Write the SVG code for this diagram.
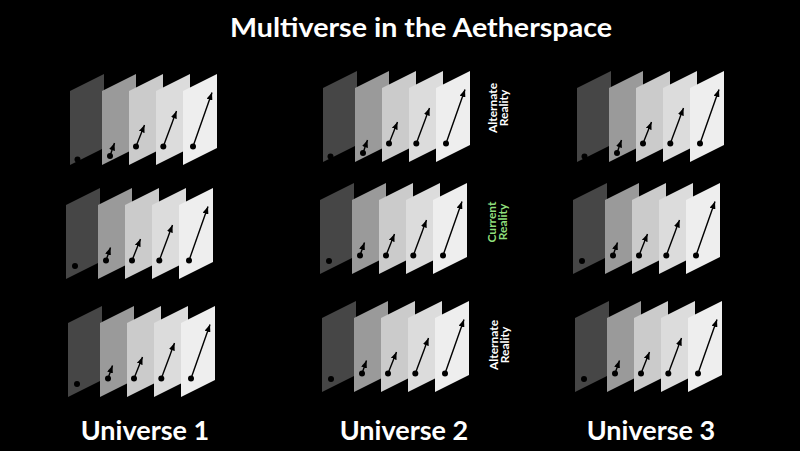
<svg xmlns="http://www.w3.org/2000/svg" xmlns:xlink="http://www.w3.org/1999/xlink" width="800" height="451" viewBox="0 0 800 451">
<style>
.p1{fill:#464646}.p2{fill:#9a9a9a}.p3{fill:#cbcbcb}.p4{fill:#dcdcdc}.p5{fill:#eeeeee}
.ar{stroke:#000;stroke-width:1.4;fill:none;marker-end:url(#ah)}
.dot{fill:#000}
.title{font-family:Lato,"Noto Sans",sans-serif;font-weight:700;font-size:26px;fill:#fff}
.uni{font-family:Lato,"Noto Sans",sans-serif;font-weight:700;font-size:27px;fill:#fff}
.side{font-family:Lato,"Noto Sans",sans-serif;font-weight:700;font-size:12px;fill:#fff}
.cur{fill:#8fdf7c}
</style>
<defs>
<marker id="ah" viewBox="0 0 10 8" refX="10" refY="4" markerWidth="7.5" markerHeight="6" markerUnits="userSpaceOnUse" orient="auto">
<path d="M0,0 L10,4 L0,8 Z" fill="#000"/>
</marker>
<path id="pl" d="M0,0 L34,-17 L34,57 L0,74 Z"/>
<g id="planes">
<use href="#pl" class="p1"/>
<use href="#pl" class="p2" x="32"/>
<use href="#pl" class="p3" x="59"/>
<use href="#pl" class="p4" x="86"/>
<use href="#pl" class="p5" x="113"/>
</g>
<g id="arrowsA">
<circle class="dot" cx="7.5" cy="68.5" r="3"/>
<circle class="dot" cx="40" cy="65" r="3"/>
<line class="ar" x1="40" y1="65" x2="44.5" y2="52"/>
<circle class="dot" cx="66" cy="55.5" r="3"/>
<line class="ar" x1="66" y1="55.5" x2="74.5" y2="34"/>
<circle class="dot" cx="93.3" cy="55.5" r="3"/>
<line class="ar" x1="93.3" y1="55.5" x2="106.5" y2="20"/>
<circle class="dot" cx="123" cy="55.5" r="3"/>
<line class="ar" x1="123" y1="55.5" x2="142" y2="1.5"/>
</g>
<g id="arrowsB">
<circle class="dot" cx="9" cy="61" r="3"/>
<circle class="dot" cx="40" cy="55.5" r="3"/>
<line class="ar" x1="40" y1="55.5" x2="44.5" y2="42.5"/>
<circle class="dot" cx="66" cy="55.5" r="3"/>
<line class="ar" x1="66" y1="55.5" x2="74.5" y2="34"/>
<circle class="dot" cx="93.3" cy="55.5" r="3"/>
<line class="ar" x1="93.3" y1="55.5" x2="106.5" y2="20"/>
<circle class="dot" cx="123" cy="55.5" r="3"/>
<line class="ar" x1="123" y1="55.5" x2="142" y2="1.5"/>
</g>
</defs>
<rect width="800" height="451" fill="#000"/>
<text class="title" x="421" y="37" text-anchor="middle" textLength="382" lengthAdjust="spacingAndGlyphs">Multiverse in the Aetherspace</text>

<g id="universe-1">
<g id="u1-r1" transform="translate(70,91)"><use href="#planes"/></g>
<g id="u1-r2" transform="translate(66,205)"><use href="#planes"/></g>
<g id="u1-r3" transform="translate(68,323)"><use href="#planes"/></g>
</g>
<g id="universe-2">
<g id="u2-r1" transform="translate(323,88)"><use href="#planes"/></g>
<g id="u2-r2" transform="translate(320,200)"><use href="#planes"/></g>
<g id="u2-r3" transform="translate(322,318)"><use href="#planes"/></g>
</g>
<g id="universe-3">
<g id="u3-r1" transform="translate(577,88)"><use href="#planes"/></g>
<g id="u3-r2" transform="translate(573,200)"><use href="#planes"/></g>
<g id="u3-r3" transform="translate(575,318)"><use href="#planes"/></g>
</g>

<g id="connectors">
<use href="#arrowsA" transform="translate(70,91)"/>
<use href="#arrowsB" transform="translate(66,205)"/>
<use href="#arrowsB" transform="translate(68,323)"/>
<use href="#arrowsA" transform="translate(323,88)"/>
<use href="#arrowsB" transform="translate(320,200)"/>
<use href="#arrowsB" transform="translate(322,318)"/>
<use href="#arrowsA" transform="translate(577,88)"/>
<use href="#arrowsB" transform="translate(573,200)"/>
<use href="#arrowsB" transform="translate(575,318)"/>
</g>

<g id="label-alt-top">
<text class="side" text-anchor="middle" transform="translate(497,108) rotate(-90)"><tspan x="0" y="0">Alternate</tspan><tspan x="0" y="11">Reality</tspan></text>
</g>
<g id="label-current">
<text class="side cur" text-anchor="middle" transform="translate(496,222) rotate(-90)"><tspan x="0" y="0">Current</tspan><tspan x="0" y="11">Reality</tspan></text>
</g>
<g id="label-alt-bottom">
<text class="side" text-anchor="middle" transform="translate(498,345) rotate(-90)"><tspan x="0" y="0">Alternate</tspan><tspan x="0" y="11">Reality</tspan></text>
</g>

<text class="uni" x="145" y="440" text-anchor="middle">Universe 1</text>
<text class="uni" x="404" y="440" text-anchor="middle">Universe 2</text>
<text class="uni" x="651" y="440" text-anchor="middle">Universe 3</text>
</svg>
